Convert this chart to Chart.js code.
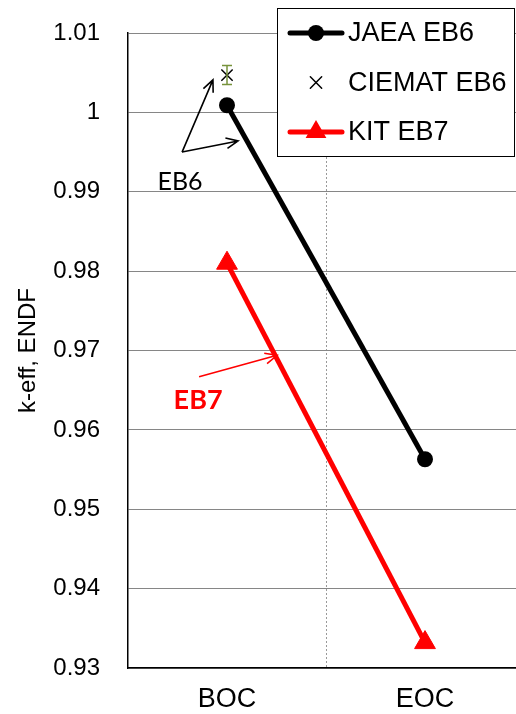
<!DOCTYPE html>
<html>
<head>
<meta charset="utf-8">
<script src="https://cdn.jsdelivr.net/npm/chart.js@4.4.1/dist/chart.umd.min.js"></script>
<style>
  html, body { margin: 0; padding: 0; background: #fff; overflow: hidden; }
  #wrap { position: relative; width: 516px; height: 714px; overflow: hidden; }
  canvas { position: absolute; left: 0; top: 0; }
</style>
</head>
<body>
<div id="wrap"><canvas id="mycanvas" width="540" height="714"></canvas></div>
<script>
// data
var categories = ['BOC', 'EOC'];
var jaeaEB6 = [1.0009, 0.9563];
var ciematEB6 = [1.0047, null];
var ciematErr = [0.0012, null];
var kitEB7 = [0.9810, 0.9332];
var yTicks = [0.93, 0.94, 0.95, 0.96, 0.97, 0.98, 0.99, 1.00, 1.01];

// notes on the plot: x in category units (0 = BOC), y in k-eff
var eb6Note = { text: 'EB6', x: -0.237, y: 0.9912 };
var eb6Arrows = [
  { from: [-0.227, 0.9950], to: [-0.071, 1.0041] },
  { from: [-0.227, 0.9950], to: [0.056, 0.9964] }
];
var eb7Note = { text: 'EB7', x: -0.146, y: 0.9637 };
var eb7Arrows = [
  { from: [-0.141, 0.9667], to: [0.253, 0.9694] }
];

var FONT = '"Liberation Sans", Arial, sans-serif';

function arrow(ctx, x1, y1, x2, y2, color) {
  var ang = Math.atan2(y2 - y1, x2 - x1);
  var hl = 13, ha = 0.42;
  ctx.save();
  ctx.strokeStyle = color;
  ctx.lineWidth = 1.6;
  ctx.beginPath();
  ctx.moveTo(x1, y1);
  ctx.lineTo(x2, y2);
  ctx.moveTo(x2 - hl * Math.cos(ang - ha), y2 - hl * Math.sin(ang - ha));
  ctx.lineTo(x2, y2);
  ctx.lineTo(x2 - hl * Math.cos(ang + ha), y2 - hl * Math.sin(ang + ha));
  ctx.stroke();
  ctx.restore();
}

function marker(ctx, style, x, y, r, color, bw) {
  ctx.save();
  ctx.fillStyle = color;
  ctx.strokeStyle = color;
  ctx.lineWidth = bw;
  ctx.beginPath();
  if (style === 'circle') {
    ctx.arc(x, y, r, 0, Math.PI * 2);
    ctx.fill();
  } else if (style === 'triangle') {
    ctx.moveTo(x, y - r);
    ctx.lineTo(x + r * 0.866, y + r / 2);
    ctx.lineTo(x - r * 0.866, y + r / 2);
    ctx.closePath();
    ctx.fill();
  } else if (style === 'crossRot') {
    var d = r * 0.7071;
    ctx.moveTo(x - d, y - d); ctx.lineTo(x + d, y + d);
    ctx.moveTo(x + d, y - d); ctx.lineTo(x - d, y + d);
    ctx.stroke();
  }
  ctx.restore();
}

var extras = {
  id: 'extras',
  afterDatasetsDraw: function(chart) {
    var ctx = chart.ctx;
    var xs = chart.scales.x, ys = chart.scales.y;

    // CIEMAT error bar
    ctx.save();
    ctx.strokeStyle = '#77933c';
    ctx.lineWidth = 1.5;
    for (var i = 0; i < ciematEB6.length; i++) {
      if (ciematEB6[i] == null) continue;
      var px = xs.getPixelForValue(i);
      var top = ys.getPixelForValue(ciematEB6[i] + ciematErr[i]);
      var bot = ys.getPixelForValue(ciematEB6[i] - ciematErr[i]);
      ctx.beginPath();
      ctx.moveTo(px, top); ctx.lineTo(px, bot);
      ctx.moveTo(px - 5, top); ctx.lineTo(px + 5, top);
      ctx.moveTo(px - 5, bot); ctx.lineTo(px + 5, bot);
      ctx.stroke();
    }
    ctx.restore();

    // arrows and notes
    eb6Arrows.forEach(function(a) {
      arrow(ctx, xs.getPixelForValue(a.from[0]), ys.getPixelForValue(a.from[1]),
            xs.getPixelForValue(a.to[0]), ys.getPixelForValue(a.to[1]), '#000');
    });
    eb7Arrows.forEach(function(a) {
      arrow(ctx, xs.getPixelForValue(a.from[0]), ys.getPixelForValue(a.from[1]),
            xs.getPixelForValue(a.to[0]), ys.getPixelForValue(a.to[1]), '#ff0000');
    });
    ctx.save();
    ctx.textAlign = 'center';
    ctx.textBaseline = 'middle';
    ctx.fillStyle = '#000';
    ctx.font = '25px Lato, ' + FONT;
    ctx.fillText(eb6Note.text, xs.getPixelForValue(eb6Note.x), ys.getPixelForValue(eb6Note.y));
    ctx.fillStyle = '#ff0000';
    ctx.font = 'bold 27px Lato, ' + FONT;
    ctx.fillText(eb7Note.text, xs.getPixelForValue(eb7Note.x), ys.getPixelForValue(eb7Note.y));
    ctx.restore();
  },
  afterDraw: function(chart) {
    // legend box in the top right
    var ctx = chart.ctx;
    var bx = 277.5, by = 8.5, bw = 237, bh = 148;
    ctx.save();
    ctx.fillStyle = '#fff';
    ctx.fillRect(bx, by, bw, bh);
    ctx.strokeStyle = '#000';
    ctx.lineWidth = 1;
    ctx.strokeRect(bx, by, bw, bh);
    ctx.font = '27px ' + FONT;
    ctx.textBaseline = 'middle';
    ctx.textAlign = 'left';
    chart.data.datasets.forEach(function(ds, k) {
      var y = 33 + k * 49.5;
      if (ds.showLine !== false) {
        ctx.strokeStyle = ds.borderColor;
        ctx.lineWidth = ds.borderWidth;
        ctx.lineCap = 'round';
        ctx.beginPath();
        ctx.moveTo(290, y); ctx.lineTo(342, y);
        ctx.stroke();
      }
      marker(ctx, ds.pointStyle, 316, y, ds.pointRadius + (ds.pointStyle === 'circle' ? 1 : 0),
             ds.pointBorderColor || ds.borderColor, ds.pointStyle === 'crossRot' ? 1.5 : 1);
      ctx.fillStyle = '#000';
      ctx.fillText(ds.label, 348, y + 1);
    });
    ctx.restore();
  }
};

var chartdata = {
  labels: categories,
  datasets: [
    {
      label: 'JAEA EB6',
      data: jaeaEB6,
      borderColor: '#000',
      backgroundColor: '#000',
      borderWidth: 5,
      pointStyle: 'circle',
      pointRadius: 7,
      pointBorderWidth: 2,
      order: 2
    },
    {
      label: 'CIEMAT EB6',
      data: ciematEB6,
      showLine: false,
      borderColor: '#000',
      backgroundColor: '#000',
      borderWidth: 1.5,
      pointStyle: 'crossRot',
      pointRadius: 8,
      pointBorderWidth: 1.5,
      order: 1
    },
    {
      label: 'KIT EB7',
      data: kitEB7,
      borderColor: '#ff0000',
      backgroundColor: '#ff0000',
      borderWidth: 5,
      pointStyle: 'triangle',
      pointRadius: 12,
      pointBorderWidth: 1,
      order: 3
    }
  ]
};

var ctx = document.getElementById('mycanvas');
var lineGraph = new Chart(ctx, {
  type: 'line',
  data: chartdata,
  plugins: [extras],
  options: {
    responsive: false,
    animation: false,
    devicePixelRatio: 1,
    layout: { padding: { top: 33, right: 16, left: 0, bottom: 0 } },
    plugins: { legend: { display: false }, tooltip: { enabled: false } },
    scales: {
      x: {
        type: 'category',
        offset: true,
        afterFit: function(s) { s.height = 46; },
        grid: {
          offset: true,
          drawTicks: false,
          color: function(c) { return c.index === 1 ? '#999' : 'rgba(0,0,0,0)'; },
          lineWidth: 1
        },
        border: { display: true, color: '#000', width: 1.5, dash: [2, 2] },
        ticks: { color: '#000', font: { family: FONT, size: 27 }, padding: 15, maxRotation: 0 }
      },
      y: {
        min: 0.93,
        max: 1.01,
        afterFit: function(s) { s.width = 128; s.paddingTop = 0; s.paddingBottom = 0; },
        afterBuildTicks: function(s) {
          s.ticks = yTicks.map(function(v) { return { value: v }; });
        },
        grid: { drawTicks: false, color: '#868686', lineWidth: 1 },
        border: { display: true, color: '#000', width: 1.5 },
        ticks: {
          color: '#000',
          font: { family: FONT, size: 24 },
          padding: 28,
          callback: function(v) { return String(+v.toFixed(2)); }
        },
        title: {
          display: true,
          text: 'k-eff, ENDF',
          color: '#000',
          font: { family: FONT, size: 24 },
          padding: { top: 14, bottom: 0 }
        }
      }
    }
  }
});
</script>
</body>
</html>
